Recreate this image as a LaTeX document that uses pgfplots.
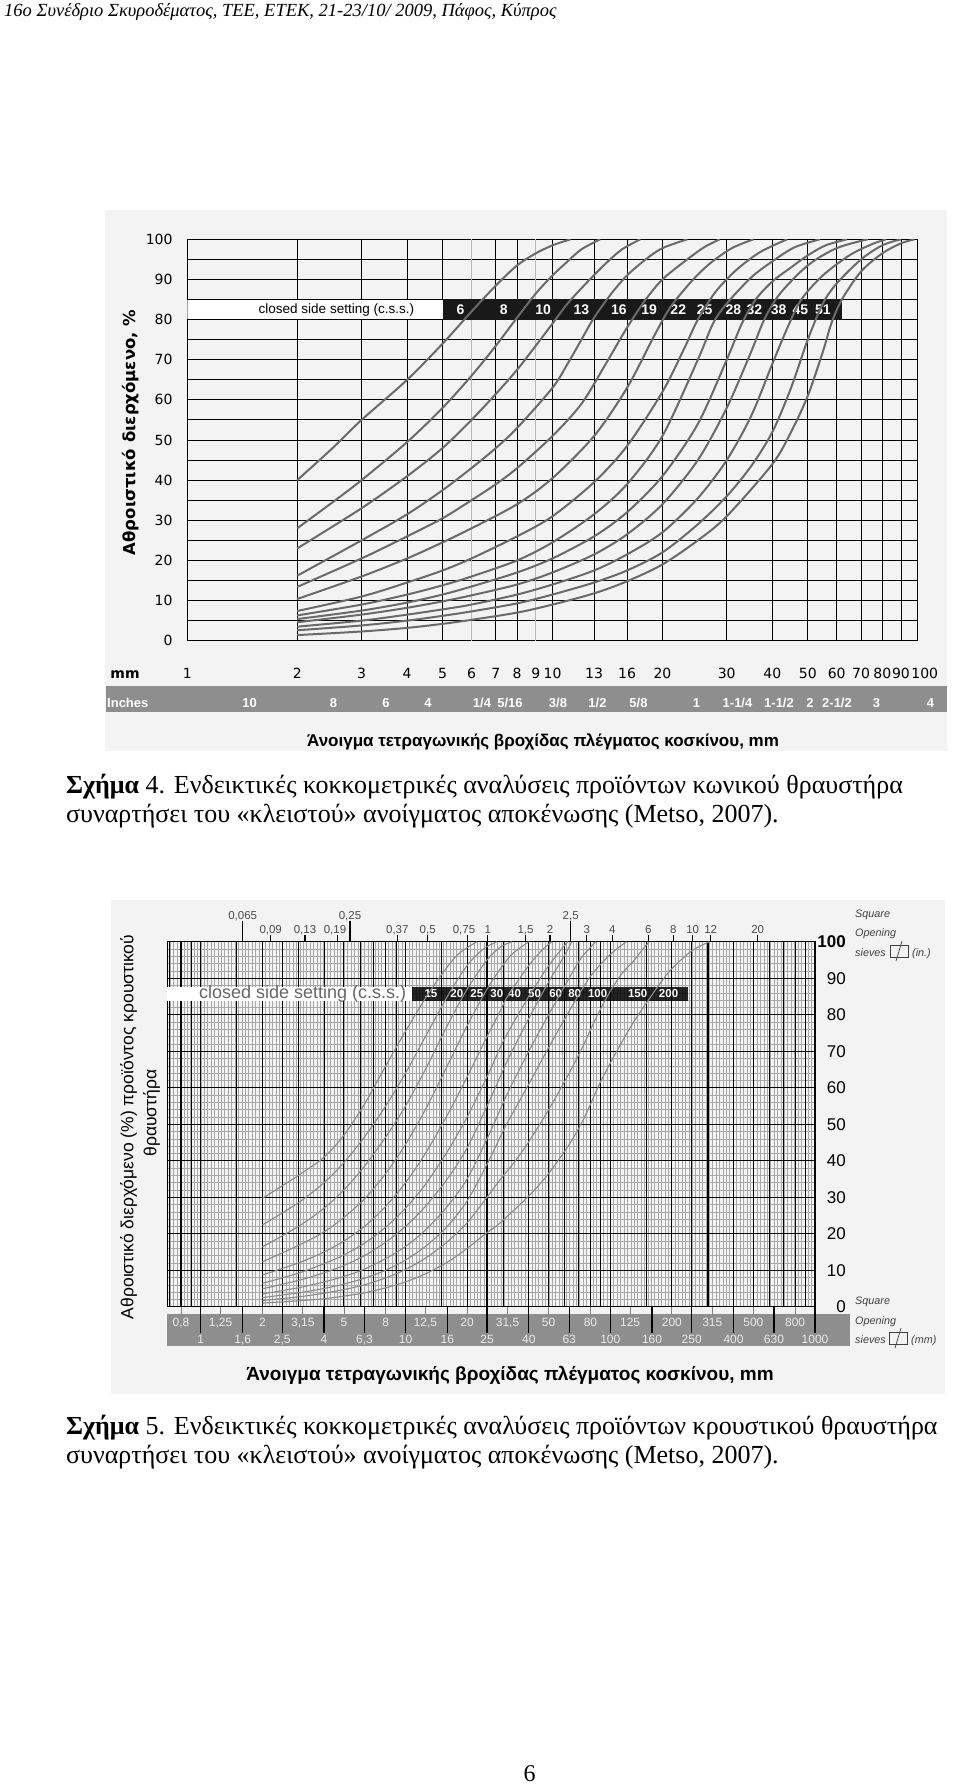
\documentclass[border=0pt]{standalone}
\usepackage{fontspec}
\setmainfont{Liberation Serif}
\newfontfamily\lsans{Liberation Sans}
\newfontfamily\dv{DejaVu Sans}
\usepackage{pgfplots}
\pgfplotsset{compat=1.18}
\newcommand\fs[1]{\fontsize{#1}{#1}\selectfont}
\definecolor{bgc}{HTML}{F3F3F3}
\definecolor{cA}{HTML}{6A6A6A}
\definecolor{cB}{HTML}{8A8A8A}
\definecolor{barc}{HTML}{8E8E8E}
\definecolor{minorc}{HTML}{A8A8A8}
\pgfplotsset{cur1/.style={cA, line width=2pt, smooth, mark=none},
             cur2/.style={cB, line width=1.1pt, smooth, mark=none}}
\begin{document}
\begin{tikzpicture}[x=1pt,y=1pt]
\fill[white] (0,0) rectangle (960,-1785);
\useasboundingbox (0,0) rectangle (960,-1785);

\node[anchor=base west,inner sep=0pt] at (4,-17) {\fs{18.5}\itshape 16ο Συνέδριο Σκυροδέματος, ΤΕΕ, ΕΤΕΚ, 21-23/10/ 2009, Πάφος, Κύπρος};

% ================= CHART 1 =================
\fill[bgc] (105,-210) rectangle (947,-751);
\fill[barc] (106,-686) rectangle (947,-712);

\begin{axis}[at={(187.3pt,-640.7pt)}, anchor=south west, scale only axis,
  width=730.4pt, height=401.4pt,
  xmode=log, xmin=1, xmax=100, ymin=0, ymax=100,
  axis line style={black, line width=1pt},
  xtick={1,2,3,4,5,7,8,10,13,16,20,30,40,50,60,70,80,90,100},
  xticklabels={1,2,3,4,5,7,8,10,13,16,20,30,40,50,60,70,80,90,\hspace*{14pt}100},
  extra x ticks={6,9}, extra x tick labels={6,9},
  extra x tick style={major grid style={color=gray!55, line width=0.9pt}},
  minor xtick={},
  ytick={0,10,...,100}, minor ytick={5,15,...,95},
  yticklabels={0,10,20,30,40,50,60,70,80,90,100},
  grid=both,
  major grid style={black, line width=0.9pt},
  minor grid style={black, line width=0.9pt},
  major tick length=0pt, minor tick length=0pt, tick style={draw=none},
  xticklabel style={font=\dv\fs{14}, anchor=base, inner sep=0pt, yshift=-37.5pt},
  yticklabel style={font=\dv\fs{14}, anchor=east, inner sep=0pt, xshift=-14.6pt},
]
\fill[white] (axis cs:1,80.15) rectangle (axis cs:5,84.85);
\fill[black!90] (axis cs:5,80) rectangle (axis cs:62,85.2);
\node[font=\lsans\fs{13.5}] at (axis cs:2.56,82.5) {closed side setting (c.s.s.)};
\begin{scope}[every node/.style={font=\lsans\bfseries\fs{14}, text=white}]
\node at (axis cs:5.6,82.5) {6};
\node at (axis cs:7.36,82.5) {8};
\node at (axis cs:9.43,82.5) {10};
\node at (axis cs:12.0,82.5) {13};
\node at (axis cs:15.2,82.5) {16};
\node at (axis cs:18.4,82.5) {19};
\node at (axis cs:22.1,82.5) {22};
\node at (axis cs:26.1,82.5) {25};
\node at (axis cs:31.3,82.5) {28};
\node at (axis cs:35.7,82.5) {32};
\node at (axis cs:41.6,82.5) {38};
\node at (axis cs:47.7,82.5) {45};
\node at (axis cs:55.0,82.5) {51};
\end{scope}
% css 6
\addplot[cur1] coordinates {(2,40)(2.5,48)(3,55)(4,65)(5,74)(6,82)(7,88.5)(8,93.5)(9,96.5)(10,98.5)(11.2,100)};
% css 8
\addplot[cur1] coordinates {(2,28)(2.5,34.5)(3,40)(4,49.5)(5,58)(6,66)(7,73.5)(8,80.5)(9,86.5)(10,91)(11,94.5)(12,97.5)(13.5,100)};
% css 10
\addplot[cur1] coordinates {(2,23)(3,33)(4,41)(5,48)(6,55)(7,61.5)(8,67.5)(9,73.5)(10,79)(11,84)(12.5,89.5)(14,94)(15.5,97.5)(17.4,100)};
% css 13
\addplot[cur1] coordinates {(2,16.2)(3,25)(4,31.5)(5,37.5)(6,43)(7,48)(8,53)(10,63)(11,69)(12,75)(13,80.5)(14.5,86.5)(16,91)(18,95)(20,97.8)(23.4,100)};
% css 16
\addplot[cur1] coordinates {(2,13.4)(3,20.5)(4,26)(5,30.5)(6,35)(7,39)(8,43)(10,51)(12,59)(14,69)(16,78)(18,85)(20,90)(23,94.5)(26,98)(28.7,100)};
% css 19
\addplot[cur1] coordinates {(2,10.4)(3,16)(4,20.5)(5,24.5)(6,28)(8,34)(10,40.5)(13,51)(16,63)(19,76)(21,83)(24,89.5)(27,94)(31,97.8)(35.5,100)};
% css 22
\addplot[cur1] coordinates {(2,7.4)(3,11)(4,14.5)(5,17.5)(6,20.5)(8,26)(10,31)(13,39.5)(16,48.5)(20,62)(23,73)(25,80)(28,87)(32,92.5)(37,96.8)(43.9,100)};
% css 25
\addplot[cur1] coordinates {(2,6.3)(3,9)(4,11.5)(5,13.8)(6,16)(8,20)(10,24.5)(13,31.5)(16,39)(20,51)(25,70)(27.5,79)(30,84)(35,90.5)(40,94.5)(46,98)(54,100)};
% css 28
\addplot[cur1] coordinates {(2,5.4)(3,7.5)(4,9.5)(5,11.5)(6,13.5)(8,17)(10,20.5)(13,26)(16,32)(20,41)(25,54)(30,70)(33,79)(36,85)(40,89.5)(45,93)(50,96)(56,98.5)(64,100)};
% css 32
\addplot[cur1] coordinates {(2,4.6)(3,6.5)(4,8.2)(5,9.8)(6,11.3)(8,14)(10,17)(13,21.5)(16,26.5)(20,34)(25,45)(30,58)(35,72)(38,80)(42,86.5)(50,93.5)(60,97.8)(73,100)};
% css 38
\addplot[cur1] coordinates {(2,3.5)(3,5)(4,6.5)(5,7.8)(6,9)(8,11.5)(10,14)(13,17.5)(16,21.5)(20,27)(25,35.5)(30,45)(35,56)(40,69)(44,78)(48,85)(55,91)(65,96)(75,98.8)(82,100)};
% css 45
\addplot[cur1] coordinates {(2,2.6)(3,3.8)(4,5)(5,6.2)(6,7.3)(8,9.3)(10,11.5)(13,14.5)(16,17.5)(20,22)(25,29)(30,36)(35,43.5)(40,52)(45,63)(50,75)(55,84)(60,89)(70,95)(80,98.5)(90,100)};
% css 51
\addplot[cur1] coordinates {(2,1.4)(3,2.3)(4,3.2)(5,4.2)(6,5.2)(8,7)(10,9)(13,11.8)(16,14.8)(20,19)(25,25)(30,31)(40,44)(45,52)(50,61)(55,72)(58,79)(62,85)(70,92)(80,96.5)(90,99)(98,100)};
\end{axis}

\node[font=\dv\bfseries\fs{14}, anchor=base] at (125,-678.2) {mm};
\begin{scope}[every node/.style={font=\lsans\bfseries\fs{13}, text=white, anchor=base, inner sep=0pt}]
\node[anchor=base west] at (107,-707) {Inches};
\node at (249.5,-707) {10};
\node at (333.5,-707) {8};
\node at (386,-707) {6};
\node at (428,-707) {4};
\node at (482,-707) {1/4};
\node at (510,-707) {5/16};
\node at (558,-707) {3/8};
\node at (597.5,-707) {1/2};
\node at (638.5,-707) {5/8};
\node at (696.5,-707) {1};
\node at (737.5,-707) {1-1/4};
\node at (779,-707) {1-1/2};
\node at (810,-707) {2};
\node at (837,-707) {2-1/2};
\node at (876.5,-707) {3};
\node at (930.5,-707) {4};
\end{scope}
\node[rotate=90, font=\dv\bfseries\fs{16.5}] at (131,-432.5) {Αθροιστικό διερχόμενο, \%};
\node[font=\lsans\bfseries\fs{17}] at (543,-741.7) {Άνοιγμα τετραγωνικής βροχίδας πλέγματος κοσκίνου, mm};

\node[anchor=base west, inner sep=0pt] at (66,-793) {\fs{26}\textbf{Σχήμα} 4. Ενδεικτικές κοκκομετρικές αναλύσεις προϊόντων κωνικού θραυστήρα};
\node[anchor=base west, inner sep=0pt] at (66,-822.5) {\fs{26}συναρτήσει του «κλειστού» ανοίγματος αποκένωσης (Metso, 2007).};

% ================= CHART 2 =================
\fill[bgc] (110.5,-899.6) rectangle (945,-1393.5);
\fill[barc] (166.7,-1314) rectangle (850,-1345.7);

% fine grid (log10 of mm on a linear axis)
\begin{axis}[at={(167.3pt,-1306.7pt)}, anchor=south west, scale only axis,
  width=647.7pt, height=365pt,
  xmin=-0.16368, xmax=3, ymin=0, ymax=100,
  xtick={-0.15,-0.133333,...,3.0}, ytick={0,2,...,100},
  grid=major, major grid style={color=minorc, line width=0.5pt},
  xticklabels={}, yticklabels={}, tick style={draw=none}, major tick length=0pt,
  axis line style={draw=none}]
\end{axis}

\begin{axis}[at={(167.3pt,-1306.7pt)}, anchor=south west, scale only axis,
  width=647.7pt, height=365pt,
  xmode=log, xmin=0.686, xmax=1000, ymin=0, ymax=100,
  clip mode=individual,
  axis line style={black, line width=1.2pt},
  xtick={1,1.6,2.5,4,6.3,10,16,25,40,63,100,160,250,400,630,1000},
  xticklabels={{1},{1,6},{2,5},{4},{6,3},{10},{16},{25},{40},{63},{100},{160},{250},{400},{630},{1000}},
  extra x ticks={0.8,1.25,2,3.15,5,8,12.5,20,31.5,50,80,125,200,315,500,800},
  extra x tick labels={{0,8},{1,25},{2},{3,15},{5},{8},{12,5},{20},{31,5},{50},{80},{125},{200},{315},{500},{800}},
  extra x tick style={xticklabel style={yshift=17pt}},
  minor xtick={},
  xticklabel style={font=\lsans\fs{12}, text=white!92!black, anchor=base, inner sep=0pt, yshift=-36.3pt},
  ytick={0,10,...,100}, yticklabel pos=right,
  yticklabels={0,10,20,30,40,50,60,70,80,90,\textbf{100}},
  yticklabel style={font=\lsans\fs{17}, anchor=east, inner sep=0pt, xshift=31pt},
  ymajorgrids, major grid style={black, line width=1.2pt},
  tick style={draw=none}, major tick length=0pt,
]
\pgfplotsinvokeforeach{0.7,0.8,0.9,1,1.5,2,2.5,3,4,5,6,7,8,9,10,15,20,25,30,40,50,60,70,80,90,100,150,200,250,300,400,500,600,700,800,900}{
  \draw[black, line width=1.1pt] (axis cs:#1,0) -- (axis cs:#1,100);}
\pgfplotsinvokeforeach{1,1.6,2.5,4,6.3,10,16,25,40,63,100,160,250,400,630,1000}{
  \draw[black, line width=1.2pt] (axis cs:#1,0) -- ++(0pt,-26pt);}
\pgfplotsinvokeforeach{0.8,1.25,2,3.15,5,8,12.5,20,31.5,50,80,125,200,315,500,800}{
  \draw[gray, line width=0.8pt] (axis cs:#1,0) -- ++(0pt,-7pt);}
\fill[white] (axis cs:0.686,83.75) rectangle (axis cs:10.76,87.7);
\fill[black, fill opacity=0.85] (axis cs:10.76,83.75) rectangle (axis cs:240.8,87.7);
\node[font=\lsans\fs{18}, text=black!60] at (axis cs:3.14,85.7) {closed side setting (c.s.s.)};
\begin{scope}[every node/.style={font=\lsans\bfseries\fs{11.5}, text=white}]
\node at (axis cs:13.3,85.7) {15};
\node at (axis cs:17.8,85.7) {20};
\node at (axis cs:22.3,85.7) {25};
\node at (axis cs:27.9,85.7) {30};
\node at (axis cs:34.1,85.7) {40};
\node at (axis cs:42.7,85.7) {50};
\node at (axis cs:54.1,85.7) {60};
\node at (axis cs:67.0,85.7) {80};
\node at (axis cs:86.8,85.7) {100};
\node at (axis cs:136,85.7) {150};
\node at (axis cs:192.7,85.7) {200};
\end{scope}
% css 15
\addplot[cur2] coordinates {(2,29.7)(3,36)(4,41)(5,47)(6.3,55.5)(8,66)(10,75.5)(12.5,84.5)(15,91)(18,96.5)(22.3,100)};
% css 20
\addplot[cur2] coordinates {(2,22.4)(3,28.5)(4,34)(5,39.5)(6.3,46.5)(8,55)(10,64)(12.5,74)(16,85)(20,93.5)(24,98)(28,100)};
% css 25
\addplot[cur2] coordinates {(2,16.4)(3,22)(4,27)(5,32)(6.3,38.5)(8,46.5)(10,55)(12.5,65)(16,77)(20,87)(25,95)(29,98.5)(33,100)};
% css 30
\addplot[cur2] coordinates {(2,12.3)(3,16.8)(4,20.5)(5,24.5)(6.3,29.5)(8,36.5)(10,44.5)(12.5,54)(16,66)(20,77)(25,87)(29,92.5)(33,96.5)(40,100)};
% css 40
\addplot[cur2] coordinates {(2,8.7)(3,12)(4,15)(5,18)(6.3,22)(8,27.5)(10,34)(12.5,42)(16,52.5)(20,63)(25,74)(29,81)(31.5,85)(40,93.5)(47,98)(52,100)};
% css 50
\addplot[cur2] coordinates {(2,6.4)(3,9.2)(4,11.8)(5,14.2)(6.3,17.4)(8,21.8)(10,27)(12.5,33.5)(16,42.5)(20,52)(25,63)(29,71)(31.5,75)(40,85)(48,92)(55,96.5)(62,100)};
% css 60
\addplot[cur2] coordinates {(2,4.9)(3,7.2)(4,9.3)(5,11.3)(6.3,14)(8,17.7)(10,22)(12.5,27.5)(16,35)(20,43.5)(25,55)(29,63)(31.5,67.5)(40,79)(50,89)(58,95)(65,100)};
% css 80
\addplot[cur2] coordinates {(2,3.5)(3,5.2)(4,6.8)(5,8.3)(6.3,10.3)(8,13.2)(10,16.5)(12.5,21)(16,27.5)(20,35)(25,46)(29,54)(31.5,58.5)(40,70)(50,80)(63,90)(72,95.5)(85,100)};
% css 100
\addplot[cur2] coordinates {(2,2.5)(3,3.8)(4,5)(5,6.2)(6.3,7.8)(8,10)(10,12.8)(12.5,16.5)(16,22)(20,29)(25,39)(29,46.5)(31.5,50.5)(40,61)(50,71)(63,81)(80,90.5)(100,96.5)(120,100)};
% css 150
\addplot[cur2] coordinates {(2,1.7)(3,2.7)(4,3.7)(5,4.7)(6.3,6)(8,7.9)(10,10.2)(12.5,13.3)(16,17.8)(20,23)(25,30)(28.9,34.7)(35,40.5)(40.4,45.6)(50,54)(63,64)(74,71.7)(85,79)(97.6,85.4)(113,91)(129,94.5)(142,97.5)(155,100)};
% css 200
\addplot[cur2] coordinates {(2,1.0)(3,1.6)(4,2.2)(5,2.9)(6.3,3.8)(8,5.2)(10,6.8)(12.5,9)(16,12.2)(20,16)(25,20.3)(28.9,22.9)(40.4,30.6)(50,36.5)(63.6,44.8)(75,52)(89.6,61.6)(110,71)(130,78)(153.5,84)(180,89.5)(203,93)(250,97.5)(305,100)};
\end{axis}

% top inch ticks
\begin{scope}[line width=1.1pt]
\draw (242.7,-941.7) -- (242.7,-921);
\draw (350,-941.7) -- (350,-921);
\draw (570.7,-941.7) -- (570.7,-921);
\foreach \x in {270.7,305,337.7,397.3,427.7,467.7,487.7,525.5,550,586.7,612.3,648.3,673.3,692.7,710.7,757.7}{
  \draw (\x,-941.7) -- (\x,-935);}
\end{scope}
\begin{scope}[every node/.style={font=\lsans\fs{11.5}, text=black!70, anchor=base, inner sep=0pt}]
\node at (242.7,-919) {0,065};
\node at (350,-919) {0,25};
\node at (570.7,-919) {2,5};
\node at (270.7,-933.5) {0,09};
\node at (305,-933.5) {0,13};
\node at (335,-933.5) {0,19};
\node at (397.3,-933.5) {0,37};
\node at (427.7,-933.5) {0,5};
\node at (464,-933.5) {0,75};
\node at (487.7,-933.5) {1};
\node at (525.5,-933.5) {1,5};
\node at (550,-933.5) {2};
\node at (586.7,-933.5) {3};
\node at (612.3,-933.5) {4};
\node at (648.3,-933.5) {6};
\node at (673.3,-933.5) {8};
\node at (692.7,-933.5) {10};
\node at (710.7,-933.5) {12};
\node at (757.7,-933.5) {20};
\end{scope}
% side notes
\begin{scope}[every node/.style={font=\lsans\itshape\fs{10.8}, text=black!75, anchor=base west, inner sep=0pt}]
\node at (855,-917) {Square};
\node at (855,-936) {Opening};
\node at (855,-956) {sieves};
\node at (912,-956) {(in.)};
\node at (855,-1304) {Square};
\node at (855,-1324) {Opening};
\node at (855,-1343) {sieves};
\node at (911,-1343) {(mm)};
\end{scope}
\draw[black!75, line width=0.7pt] (890,-945.5) rectangle (908,-957.5);
\draw[black!75, line width=0.7pt] (896,-961) -- (902,-941);
\draw[black!75, line width=0.7pt] (889,-1332.5) rectangle (907,-1344.5);
\draw[black!75, line width=0.7pt] (895,-1348) -- (901,-1328);

\node[rotate=90, font=\lsans\fs{17.5}] at (128.7,-1127) {Αθροιστικό διερχόμενο (\%) προϊόντος κρουστικού};
\node[rotate=90, font=\lsans\fs{17.5}] at (151.5,-1113) {θραυστήρα};
\node[font=\lsans\bfseries\fs{19}] at (510,-1375.5) {Άνοιγμα τετραγωνικής βροχίδας πλέγματος κοσκίνου, mm};

\node[anchor=base west, inner sep=0pt] at (66,-1434) {\fs{26}\textbf{Σχήμα} 5. Ενδεικτικές κοκκομετρικές αναλύσεις προϊόντων κρουστικού θραυστήρα};
\node[anchor=base west, inner sep=0pt] at (66,-1463.5) {\fs{26}συναρτήσει του «κλειστού» ανοίγματος αποκένωσης (Metso, 2007).};

\node[anchor=base, inner sep=0pt] at (529.5,-1781) {\fs{24}6};
\end{tikzpicture}
\end{document}
